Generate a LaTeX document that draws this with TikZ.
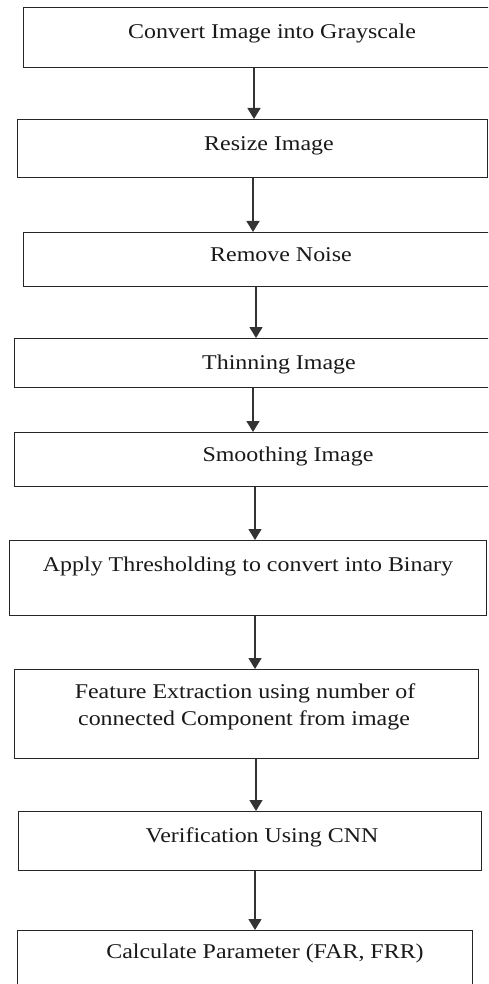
\documentclass[tikz,border=0pt]{standalone}
\usepackage{fontspec}
\setmainfont{Liberation Serif}[FakeStretch=1.14]
\usetikzlibrary{arrows.meta}
\begin{document}
\begin{tikzpicture}[x=1pt,y=-1pt,
  box/.style={draw=black!85,line width=1.3pt,rectangle,anchor=north west,inner sep=0pt},
  lbl/.style={anchor=base,inner sep=0pt,font=\fontsize{21}{27}\selectfont,align=center,text=black!90},
  flow/.style={draw=black!80,line width=1.4pt,-{Triangle[length=11pt,width=13pt]}}]
\useasboundingbox[fill=white] (0,0) rectangle (488,984);
\clip (0,0) rectangle (488,984);
\node[box,minimum width=472,minimum height=60] (b1) at (23,7) {};
\node[box,minimum width=470,minimum height=58] (b2) at (17,119) {};
\node[box,minimum width=472,minimum height=54] (b3) at (23,232) {};
\node[box,minimum width=481,minimum height=49] (b4) at (14,338) {};
\node[box,minimum width=481,minimum height=54] (b5) at (14,432) {};
\node[box,minimum width=477,minimum height=75] (b6) at (9,540) {};
\node[box,minimum width=464,minimum height=89] (b7) at (14,669) {};
\node[box,minimum width=463,minimum height=59] (b8) at (18,811) {};
\node[box,minimum width=455,minimum height=70] (b9) at (17,930) {};
\node[lbl] (t1) at (272,39) {Convert Image into Grayscale};
\node[lbl] (t2) at (269,151) {Resize Image};
\node[lbl] (t3) at (281,261) {Remove Noise};
\node[lbl] (t4) at (279,369) {Thinning Image};
\node[lbl] (t5) at (288,461) {Smoothing Image};
\node[lbl] (t6) at (248,571) {Apply Thresholding to convert into Binary};
\node[lbl] (t7a) at (245,698) {Feature Extraction using number of};
\node[lbl] (t7b) at (244,725) {connected Component from image};
\node[lbl] (t8) at (262,842) {Verification Using CNN};
\node[lbl] (t9) at (265,958) {Calculate Parameter (FAR, FRR)};
\draw[flow] (b1.south -| 254,0) -- (b2.north -| 254,0);
\draw[flow] (b2.south -| 253,0) -- (b3.north -| 253,0);
\draw[flow] (b3.south -| 256,0) -- (b4.north -| 256,0);
\draw[flow] (b4.south -| 253,0) -- (b5.north -| 253,0);
\draw[flow] (b5.south -| 255,0) -- (b6.north -| 255,0);
\draw[flow] (b6.south -| 255,0) -- (b7.north -| 255,0);
\draw[flow] (b7.south -| 256,0) -- (b8.north -| 256,0);
\draw[flow] (b8.south -| 255,0) -- (b9.north -| 255,0);
\end{tikzpicture}
\end{document}
